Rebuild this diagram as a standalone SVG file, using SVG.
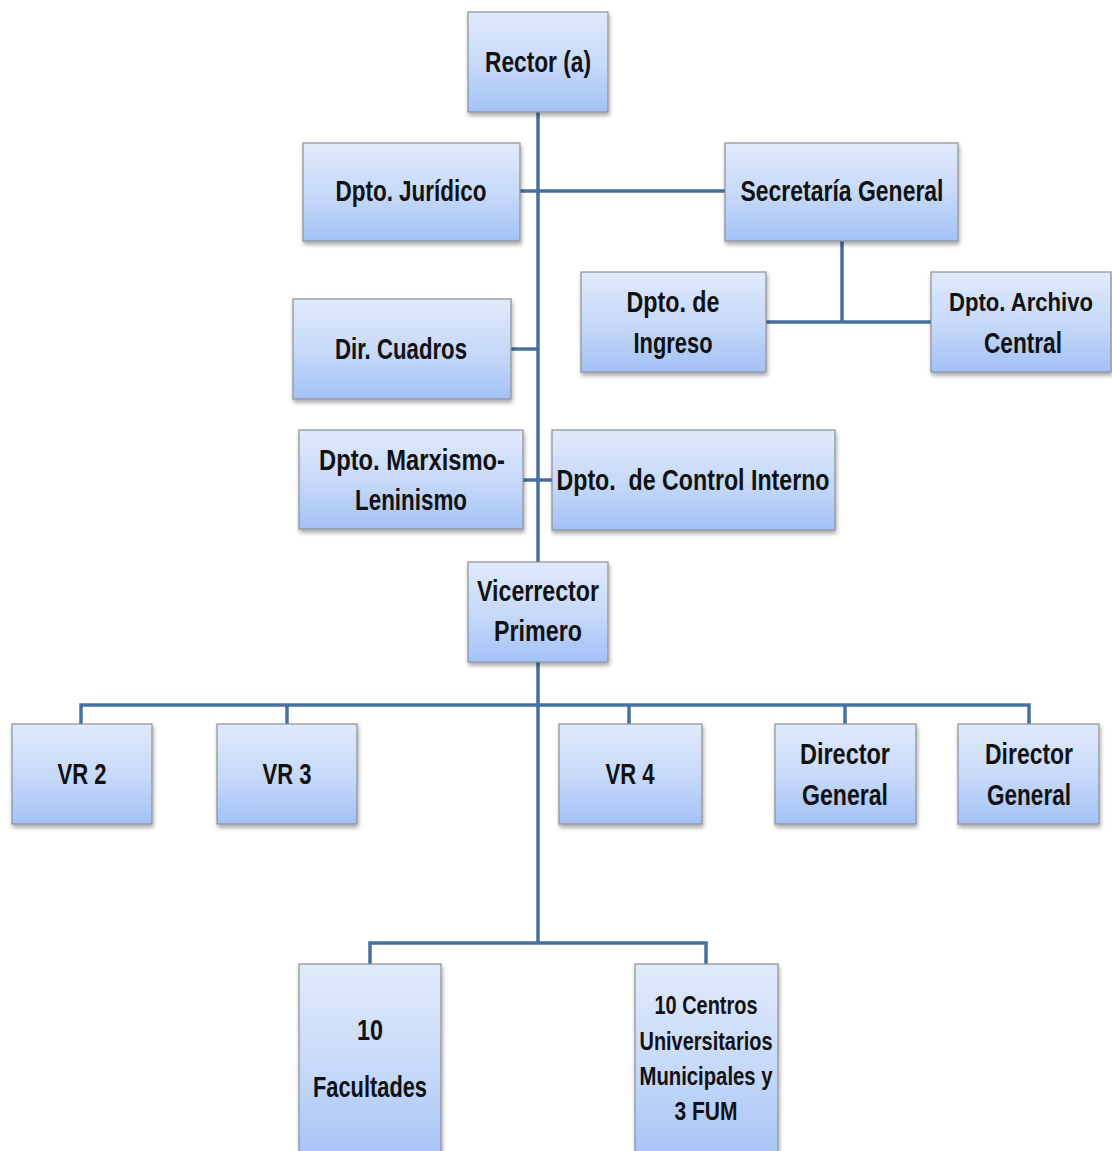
<svg xmlns="http://www.w3.org/2000/svg" width="1112" height="1151" viewBox="0 0 1112 1151">
<style>
.box{fill:url(#g);stroke:#8c8f96;stroke-width:1.2;filter:url(#sh)}
.t{font-family:"Liberation Sans",Arial,sans-serif;font-weight:bold;font-size:29px;fill:#111;text-anchor:middle}
.s{font-size:26px}
.c{fill:none;stroke:#44719f;stroke-width:3.5}
</style>
<defs>
<linearGradient id="g" x1="0" y1="0" x2="0" y2="1">
<stop offset="0" stop-color="#e0eafb"/>
<stop offset="0.5" stop-color="#c8daf9"/>
<stop offset="1" stop-color="#a3c2f6"/>
</linearGradient>
<filter id="sh" x="-10%" y="-10%" width="125%" height="125%">
<feDropShadow dx="1" dy="3" stdDeviation="2" flood-color="#000" flood-opacity="0.35"/>
</filter>
</defs>
<rect width="1112" height="1151" fill="#fff"/>
<g id="connectors">
<path class="c" d="M538 112V562"/>
<path class="c" d="M520 191H725"/>
<path class="c" d="M842 241V322M766 322H931"/>
<path class="c" d="M511 349H538"/>
<path class="c" d="M523 480H552"/>
<path class="c" d="M538 662V943"/>
<path class="c" d="M81 724V705H1029V724M287 705V724M629 705V724M845 705V724"/>
<path class="c" d="M370 964V943H706V964"/>
</g>
<g id="rector"><rect class="box" x="468" y="12" width="140" height="100"/><text class="t" x="538" y="72" textLength="106" lengthAdjust="spacingAndGlyphs">Rector (a)</text></g>
<g id="juridico"><rect class="box" x="303" y="143" width="217" height="98"/><text class="t" x="411" y="201" textLength="151" lengthAdjust="spacingAndGlyphs">Dpto. Jurídico</text></g>
<g id="secretaria"><rect class="box" x="725" y="143" width="233" height="98"/><text class="t" x="842" y="201" textLength="203" lengthAdjust="spacingAndGlyphs">Secretaría General</text></g>
<g id="ingreso"><rect class="box" x="581" y="272" width="185" height="100"/><text class="t" x="673" y="312" textLength="93" lengthAdjust="spacingAndGlyphs">Dpto. de</text><text class="t" x="673" y="353" textLength="79" lengthAdjust="spacingAndGlyphs">Ingreso</text></g>
<g id="archivo"><rect class="box" x="931" y="272" width="180" height="100"/><text class="t s" x="1021" y="311" textLength="144" lengthAdjust="spacingAndGlyphs">Dpto. Archivo</text><text class="t" x="1023" y="353" textLength="78" lengthAdjust="spacingAndGlyphs">Central</text></g>
<g id="cuadros"><rect class="box" x="293" y="299" width="218" height="100"/><text class="t" x="401" y="359" textLength="132" lengthAdjust="spacingAndGlyphs">Dir. Cuadros</text></g>
<g id="marxismo"><rect class="box" x="299" y="430" width="224" height="99"/><text class="t" x="412" y="470" textLength="186" lengthAdjust="spacingAndGlyphs">Dpto. Marxismo-</text><text class="t" x="411" y="510" textLength="112" lengthAdjust="spacingAndGlyphs">Leninismo</text></g>
<g id="control"><rect class="box" x="552" y="430" width="283" height="100"/><text class="t" x="693" y="490" textLength="273" lengthAdjust="spacingAndGlyphs" xml:space="preserve">Dpto.  de Control Interno</text></g>
<g id="vicerrector"><rect class="box" x="468" y="562" width="140" height="100"/><text class="t" x="538" y="601" textLength="122" lengthAdjust="spacingAndGlyphs">Vicerrector</text><text class="t" x="538" y="641" textLength="88" lengthAdjust="spacingAndGlyphs">Primero</text></g>
<g id="vr2"><rect class="box" x="12" y="724" width="140" height="100"/><text class="t" x="82" y="784" textLength="49" lengthAdjust="spacingAndGlyphs">VR 2</text></g>
<g id="vr3"><rect class="box" x="217" y="724" width="140" height="100"/><text class="t" x="287" y="784" textLength="49" lengthAdjust="spacingAndGlyphs">VR 3</text></g>
<g id="vr4"><rect class="box" x="559" y="724" width="143" height="100"/><text class="t" x="630" y="784" textLength="49" lengthAdjust="spacingAndGlyphs">VR 4</text></g>
<g id="director1"><rect class="box" x="775" y="724" width="141" height="100"/><text class="t" x="845" y="764" textLength="90" lengthAdjust="spacingAndGlyphs">Director</text><text class="t" x="845" y="805" textLength="86" lengthAdjust="spacingAndGlyphs">General</text></g>
<g id="director2"><rect class="box" x="958" y="724" width="141" height="100"/><text class="t" x="1029" y="764" textLength="88" lengthAdjust="spacingAndGlyphs">Director</text><text class="t" x="1029" y="805" textLength="84" lengthAdjust="spacingAndGlyphs">General</text></g>
<g id="facultades"><rect class="box" x="299" y="964" width="142" height="200"/><text class="t" x="370" y="1040" textLength="26" lengthAdjust="spacingAndGlyphs">10</text><text class="t" x="370" y="1097" textLength="114" lengthAdjust="spacingAndGlyphs">Facultades</text></g>
<g id="centros"><rect class="box" x="635" y="964" width="143" height="200"/><text class="t s" x="706" y="1014" textLength="103" lengthAdjust="spacingAndGlyphs">10 Centros</text><text class="t s" x="706" y="1050" textLength="133" lengthAdjust="spacingAndGlyphs">Universitarios</text><text class="t s" x="706" y="1085" textLength="133" lengthAdjust="spacingAndGlyphs">Municipales y</text><text class="t s" x="706" y="1120" textLength="63" lengthAdjust="spacingAndGlyphs">3 FUM</text></g>
</svg>
